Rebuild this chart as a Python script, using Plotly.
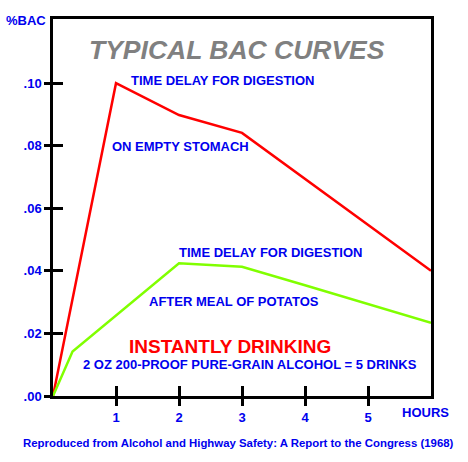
import plotly.graph_objects as go

# Data
hours_empty = [0, 1, 2, 3, 6]
bac_empty = [0.0, 0.100, 0.0898, 0.0841, 0.040]
hours_meal = [0, 0.31, 2, 3, 4, 5, 6]
bac_meal = [0.0, 0.0142, 0.0424, 0.0413, 0.0354, 0.0294, 0.0234]
y_tickvals = [0.0, 0.02, 0.04, 0.06, 0.08, 0.10]
y_ticktext = [".00", ".02", ".04", ".06", ".08", ".10"]
x_tickvals = [1, 2, 3, 4, 5]
x_ticktext = ["1", "2", "3", "4", "5"]

BLUE = "#0000EE"
RED = "#FF0000"
GREEN = "#80FF00"
FONT = "Liberation Sans"

fig = go.Figure()
fig.add_trace(go.Scatter(x=hours_empty, y=bac_empty, mode="lines",
                         line=dict(color=RED, width=2.5), showlegend=False,
                         hoverinfo="skip"))
fig.add_trace(go.Scatter(x=hours_meal, y=bac_meal, mode="lines",
                         line=dict(color=GREEN, width=2.5), showlegend=False,
                         hoverinfo="skip"))
# invisible copy on overlay axes so inner tick marks are drawn
fig.add_trace(go.Scatter(x=hours_meal, y=bac_meal, mode="lines", xaxis="x2", yaxis="y2",
                         line=dict(color="rgba(0,0,0,0)", width=0), showlegend=False,
                         hoverinfo="skip"))

axis_font = dict(family=FONT, size=13, color=BLUE, weight="bold")

fig.update_layout(
    width=468, height=462,
    margin=dict(l=53, r=37, t=19, b=66),
    paper_bgcolor="white", plot_bgcolor="white",
    xaxis=dict(range=[0, 6], showgrid=False, zeroline=False,
               showline=True, linecolor="black", linewidth=2.5, mirror=True,
               ticks="outside", ticklen=7, tickwidth=2.5, tickcolor="black",
               tickvals=x_tickvals, ticktext=x_ticktext, tickfont=axis_font,
               ticklabelstandoff=1),
    yaxis=dict(range=[0, 0.1205], showgrid=False, zeroline=False,
               showline=True, linecolor="black", linewidth=2.5, mirror=True,
               ticks="outside", ticklen=6, tickwidth=2.5, tickcolor="black",
               tickvals=y_tickvals, ticktext=y_ticktext, tickfont=axis_font,
               ticklabelstandoff=0),
    xaxis2=dict(range=[0, 6], overlaying="x", anchor="y2", showgrid=False, zeroline=False,
                showline=False, ticks="inside", ticklen=10, tickwidth=2.5, side="bottom",
                tickcolor="black", tickvals=x_tickvals, showticklabels=False),
    yaxis2=dict(range=[0, 0.1205], overlaying="y", anchor="x2", showgrid=False, zeroline=False,
                showline=False, ticks="inside", ticklen=10, tickwidth=2.5, side="left",
                tickcolor="black", tickvals=y_tickvals, showticklabels=False),
)

def txt(x, y, s, size=13, color=BLUE, xanchor="left", italic=False, xref="x", yref="y"):
    fig.add_annotation(x=x, y=y, xref=xref, yref=yref, text=s, showarrow=False,
                       xanchor=xanchor, yanchor="middle",
                       font=dict(family=FONT, size=size, color=color, weight="bold",
                                 style="italic" if italic else "normal"))

txt(0.488, (396-50)/377, "TYPICAL BAC CURVES", size=26.5, color="#808080",
    xanchor="center", italic=True, xref="paper", yref="paper")
txt(1.206, 0.101, "TIME DELAY FOR DIGESTION")
txt(0.905, 0.0799, "ON EMPTY STOMACH")
txt(1.968, 0.0458, "TIME DELAY FOR DIGESTION")
txt(1.492, 0.0301, "AFTER MEAL OF POTATOS")
txt(2.81, 0.0158, "INSTANTLY DRINKING", size=19, color=RED, xanchor="center")
txt(3.127, 0.0102, "2 OZ 200-PROOF PURE-GRAIN ALCOHOL = 5 DRINKS", xanchor="center")
txt((425-53)/378, (396-412.7)/377, "HOURS", xanchor="center", xref="paper", yref="paper")
txt(-5/378, (396-21)/377, "%BAC", xanchor="right", xref="paper", yref="paper")
txt((238-53)/378, (396-442.7)/377,
    "Reproduced from Alcohol and Highway Safety: A Report to the Congress (1968)",
    size=11.4, xanchor="center", xref="paper", yref="paper")

fig.write_html("out.html", config={"displayModeBar": False},
               post_script="document.body.style.margin='0';")
